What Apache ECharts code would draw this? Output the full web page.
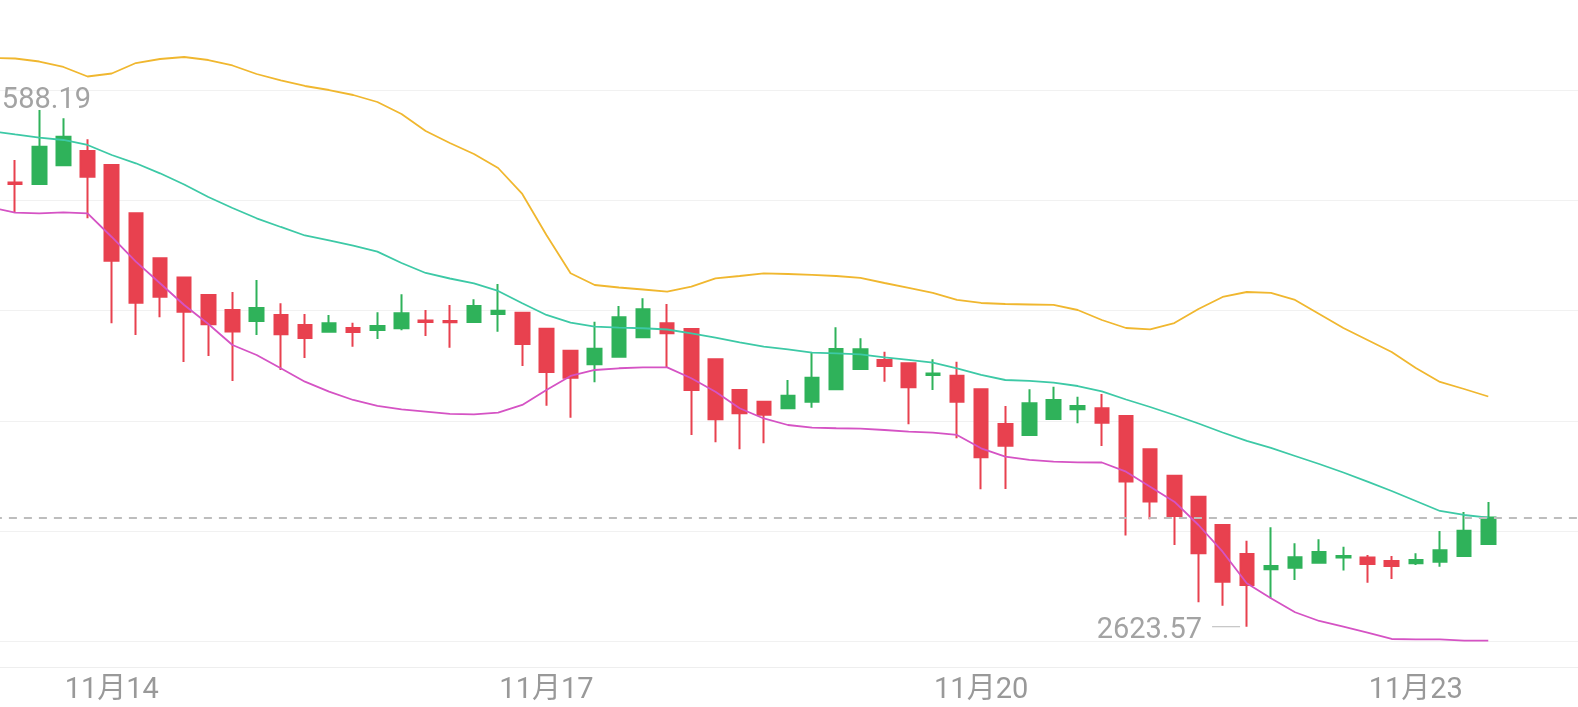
<!DOCTYPE html>
<html>
<head>
<meta charset="utf-8">
<script src="https://cdn.jsdelivr.net/npm/echarts@6/dist/echarts.min.js"></script>
<style>
html,body{margin:0;padding:0;background:#fff;}
#chart{width:1578px;height:707px;}
</style>
</head>
<body>
<div id="chart"></div>
<script>
// 4-hour candles (first one is just off the left edge), plus empty slots on the right
const categories = [
'11/13 04:00','11/13 08:00','11/13 12:00','11/13 16:00','11/13 20:00',
'11/14 00:00','11/14 04:00','11/14 08:00','11/14 12:00','11/14 16:00','11/14 20:00',
'11/15 00:00','11/15 04:00','11/15 08:00','11/15 12:00','11/15 16:00','11/15 20:00',
'11/16 00:00','11/16 04:00','11/16 08:00','11/16 12:00','11/16 16:00','11/16 20:00',
'11/17 00:00','11/17 04:00','11/17 08:00','11/17 12:00','11/17 16:00','11/17 20:00',
'11/18 00:00','11/18 04:00','11/18 08:00','11/18 12:00','11/18 16:00','11/18 20:00',
'11/19 00:00','11/19 04:00','11/19 08:00','11/19 12:00','11/19 16:00','11/19 20:00',
'11/20 00:00','11/20 04:00','11/20 08:00','11/20 12:00','11/20 16:00','11/20 20:00',
'11/21 00:00','11/21 04:00','11/21 08:00','11/21 12:00','11/21 16:00','11/21 20:00',
'11/22 00:00','11/22 04:00','11/22 08:00','11/22 12:00','11/22 16:00','11/22 20:00',
'11/23 00:00','11/23 04:00','11/23 08:00','11/23 12:00','11/23 16:00','11/23 20:00',
'11/24 00:00','11/24 04:00'
];
const tickCats  = ['11/14 00:00','11/17 00:00','11/20 00:00','11/23 00:00'];
const tickTexts = ['11月14','11月17','11月20','11月23'];

const openVals = [3457.5,3452.8,3450.0,3485.0,3511.7,3485.5,3395.3,3311.3,3275.5,3242.8,3214.8,3194.3,3205.5,3186.8,3174.3,3181.2,3177.5,3180.7,3195.2,3194.3,3192.4,3207.3,3209.8,3179.9,3138.8,3113.4,3127.6,3163.8,3190.0,3179.3,3122.8,3065.5,3043.6,3031.3,3043.6,3066.8,3104.7,3121.5,3115.3,3093.5,3092.2,3066.8,3002.0,2981.5,3011.3,3029.4,3031.3,3016.9,2954.8,2905.5,2866.3,2813.4,2759.3,2730.7,2733.7,2743.0,2752.8,2752.8,2746.2,2741.9,2744.9,2755.6,2778.0];
const closeVals = [3446.3,3450.0,3519.7,3538.3,3463.7,3306.9,3228.4,3239.6,3211.6,3188.1,3174.7,3218.5,3169.5,3162.5,3190.0,3173.7,3184.9,3208.7,3192.4,3191.9,3222.3,3213.5,3151.3,3099.1,3088.4,3142.6,3201.2,3216.1,3171.3,3065.5,3010.8,3022.0,3019.4,3054.8,3088.4,3142.0,3141.4,3110.3,3070.5,3096.3,3043.6,2939.8,2961.5,3040.6,3046.8,3035.6,3004.4,2894.6,2857.3,2830.2,2760.6,2707.6,2701.4,2736.9,2753.1,2763.0,2755.6,2740.6,2736.9,2748.1,2766.2,2802.8,2827.4];
const lowVals = [3420.2,3396.5,3450.0,3485.0,3386.0,3190.0,3168.1,3201.2,3117.7,3128.9,3082.3,3168.1,3102.8,3125.2,3172.4,3146.3,3160.7,3176.9,3166.3,3144.4,3192.4,3174.3,3110.3,3036.2,3013.8,3079.8,3127.6,3163.8,3107.8,2981.5,2967.8,2954.8,2966.0,3031.3,3032.4,3066.8,3104.7,3081.0,3001.4,3065.5,2975.3,2880.1,2880.6,2981.5,3011.3,3003.3,2960.9,2793.8,2824.3,2776.1,2669.1,2662.8,2623.57,2676.6,2710.8,2743.0,2728.5,2705.7,2712.6,2738.8,2735.6,2755.6,2778.0];
const highVals = [3472.4,3494.9,3588.19,3572.7,3533.5,3485.5,3395.3,3311.3,3275.5,3242.8,3248.4,3270.8,3227.3,3207.3,3205.5,3191.1,3210.5,3244.3,3214.8,3224.2,3234.8,3263.4,3209.8,3179.9,3138.8,3193.0,3222.3,3236.7,3226.0,3179.3,3122.8,3065.5,3043.6,3084.1,3135.1,3182.5,3162.0,3137.0,3115.3,3122.8,3118.3,3066.8,3035.6,3066.8,3071.6,3053.0,3058.0,3016.9,2954.8,2905.5,2866.3,2813.4,2784.1,2809.1,2779.3,2786.7,2772.9,2757.4,2755.6,2760.6,2802.2,2837.7,2856.4];

const upperBand = [3685.3,3684.3,3678.7,3668.5,3650.7,3656.3,3675.9,3683.4,3687.1,3681.5,3671.3,3655.4,3643.3,3633.0,3625.5,3616.2,3603.1,3580.7,3549.0,3526.6,3506.0,3479.9,3431.4,3354.8,3283.3,3261.5,3256.8,3253.1,3249.0,3258.3,3274.0,3278.3,3283.3,3282.0,3280.2,3278.3,3274.6,3265.2,3255.9,3246.6,3233.5,3227.9,3226.0,3225.1,3224.2,3214.8,3196.1,3181.2,3178.8,3190.5,3216.7,3239.1,3248.4,3246.6,3233.5,3207.3,3181.2,3158.8,3136.4,3106.5,3080.4,3067.3,3053.3];
const midBand = [3549.0,3542.5,3536.5,3532.2,3522.9,3504.2,3488.7,3470.0,3449.1,3425.8,3405.2,3386.0,3369.8,3353.9,3344.6,3335.2,3323.7,3302.6,3283.9,3273.6,3264.3,3250.3,3227.3,3205.5,3191.1,3183.6,3181.8,3180.7,3178.4,3171.3,3163.1,3154.5,3146.3,3141.4,3135.1,3134.0,3132.1,3126.5,3121.5,3116.4,3106.0,3093.5,3084.1,3082.3,3079.1,3072.9,3062.7,3047.7,3033.7,3018.8,3002.9,2986.1,2970.3,2957.2,2942.2,2927.3,2911.4,2894.3,2876.9,2858.2,2839.6,2832.1,2827.1];
const lowerBand = [3406.2,3396.5,3395.3,3397.2,3395.3,3351.1,3305.0,3264.7,3224.2,3188.7,3149.5,3130.8,3106.0,3081.0,3062.3,3046.8,3035.6,3029.1,3025.0,3020.7,3020.1,3023.1,3037.5,3065.5,3091.6,3102.8,3106.0,3107.8,3107.8,3087.3,3062.3,3031.3,3012.3,3000.1,2995.1,2994.0,2993.2,2990.8,2987.6,2985.7,2981.5,2956.6,2940.9,2934.8,2931.6,2930.5,2930.1,2912.9,2884.9,2856.9,2813.4,2763.6,2704.6,2676.6,2650.5,2634.2,2623.6,2612.4,2600.6,2600.0,2600.0,2597.4,2597.4];

const UP = '#2fb25a', DOWN = '#e8414f';

const candleData = openVals.map((o, i) => [o, closeVals[i], lowVals[i], highVals[i]]);
let iHigh = 0, iLow = 0;
for (let i = 1; i < highVals.length; i++) {
  if (highVals[i] > highVals[iHigh]) iHigh = i;
  if (lowVals[i] < lowVals[iLow]) iLow = i;
}
const lastClose = closeVals[closeVals.length - 1];

const chart = echarts.init(document.getElementById('chart'));
chart.setOption({
  animation: false,
  backgroundColor: '#ffffff',
  grid: { left: -21.1, right: -18.95, top: -6, bottom: 65.5, outerBoundsMode: 'none', containLabel: false },
  xAxis: {
    type: 'category',
    data: categories,
    boundaryGap: true,
    offset: 25.5,
    axisLine: { show: true, onZero: false, lineStyle: { color: '#eeeeee', width: 1 } },
    axisTick: { show: false },
    splitLine: { show: false },
    axisLabel: {
      interval: (idx, val) => tickCats.indexOf(val) >= 0,
      formatter: (val) => { const k = tickCats.indexOf(val); return k >= 0 ? tickTexts[k] : ''; },
      color: '#999999',
      fontSize: 29,
      fontFamily: "Roboto, 'Noto Sans CJK SC'",
      margin: 9
    }
  },
  yAxis: [
    { type: 'value', min: 2595.9, max: 3804.75, show: true,
      axisLine: { show: false }, axisTick: { show: false }, axisLabel: { show: false }, splitLine: { show: false } },
    { type: 'value', min: 0, max: 5.87, interval: 1, show: true,
      axisLine: { show: false }, axisTick: { show: false }, axisLabel: { show: false },
      splitLine: { show: true, lineStyle: { color: '#f1f1f1', width: 1 } } }
  ],
  series: [
    {
      type: 'candlestick',
      data: candleData,
      barWidth: 14,
      itemStyle: { color: UP, color0: DOWN, borderColor: UP, borderColor0: DOWN, borderWidth: 2 },
      markPoint: {
        silent: true,
        data: [
          { coord: [categories[iHigh], highVals[iHigh]], value: highVals[iHigh],
            symbol: 'circle', symbolSize: 1, itemStyle: { color: 'rgba(0,0,0,0)' },
            label: { show: true, position: 'top', distance: 3, offset: [-1, 9], formatter: (p) => p.value.toFixed(2),
              color: '#a3a3a3', fontSize: 29, fontFamily: 'Roboto' } },
          { coord: [categories[iLow], lowVals[iLow]], value: lowVals[iLow],
            symbol: 'rect', symbolSize: [28, 1.2], symbolOffset: [-20.7, 0], itemStyle: { color: '#c4c4c4' },
            label: { show: true, position: 'left', distance: 10, offset: [0, 4], formatter: (p) => p.value.toFixed(2),
              color: '#a3a3a3', fontSize: 29, fontFamily: 'Roboto' } }
        ]
      },
      markLine: {
        silent: true,
        symbol: ['none', 'none'],
        label: { show: false },
        lineStyle: { type: [8, 7], color: '#bdbdbd', width: 2 },
        data: [{ yAxis: lastClose }]
      }
    },
    { type: 'line', data: upperBand, symbol: 'none', lineStyle: { color: '#f0b72f', width: 1.8 }, z: 3 },
    { type: 'line', data: midBand, symbol: 'none', lineStyle: { color: '#3dc9a6', width: 1.8 }, z: 3 },
    { type: 'line', data: lowerBand, symbol: 'none', lineStyle: { color: '#d553c4', width: 1.8 }, z: 3 }
  ]
});
</script>
</body>
</html>
